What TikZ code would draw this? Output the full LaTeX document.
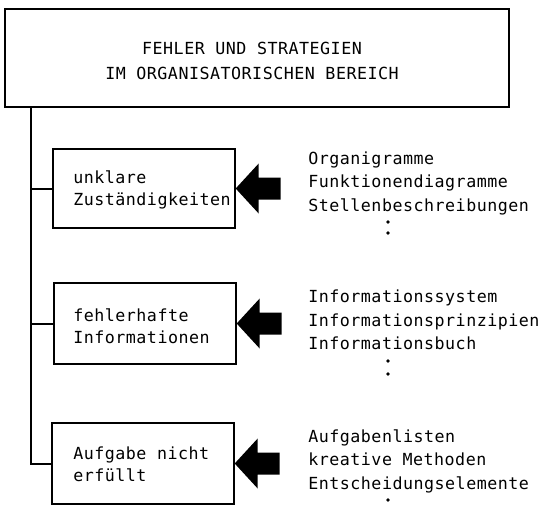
\documentclass[tikz,border=0pt]{standalone}
\usepackage{fontspec}
\newfontfamily\typew{DejaVu Sans Mono}[LetterSpace=3]
\begin{document}
\begin{tikzpicture}[x=0.75pt,y=-0.75pt,
  every node/.style={font=\typew\fontsize{12.5pt}{16.5pt}\selectfont},
  frame/.style={draw=black,line width=1.5pt,inner sep=0pt},
  mainbox/.style={frame,minimum width=378pt,minimum height=73pt},
  errbox/.style={frame,minimum width=136pt,minimum height=59pt},
  boxtext/.style={anchor=west,align=left,inner sep=0pt},
  listtext/.style={anchor=west,align=left,inner sep=0pt,
    font=\typew\fontsize{12.5pt}{17.6pt}\selectfont},
  link/.style={line width=1.5pt},
  bigarrow/.style={fill=black},
  dot/.style={fill=black}]
\useasboundingbox (0,0) rectangle (547,508);

% title box
\node[mainbox] (top) at (257,58) {};
\node[align=center,inner sep=0pt,font=\typew\fontsize{12.5pt}{18.75pt}\selectfont] (title) at (252,60.5)
  {FEHLER UND STRATEGIEN\\IM ORGANISATORISCHEN BEREICH};

% error boxes
\node[errbox] (b1) at (144,188.5) {};
\node[errbox,minimum height=61pt] (b2) at (145,323.5) {};
\node[errbox,minimum height=61pt] (b3) at (143,463.5) {};

\node[boxtext] (t1) at (73,190) {unklare\\Zuständigkeiten};
\node[boxtext] (t2) at (73,326) {fehlerhafte\\Informationen};
\node[boxtext] (t3) at (73,464) {Aufgabe nicht\\erfüllt};

% trunk and branches
\coordinate (trunk) at (31,0);
\draw[link] (top.south -| trunk) |- (b3.west);
\draw[link] (trunk |- b1.west) -- (b1.west);
\draw[link] (trunk |- b2.west) -- (b2.west);

% block arrows
\foreach \b in {b1,b2,b3}{
  \fill[bigarrow] (\b.east) -- ++(23,-25) -- ++(0,14) -- ++(22,0)
     -- ++(0,22) -- ++(-22,0) -- ++(0,14) -- cycle;
}

% lists
\node[listtext] (l1) at (308,183)
  {Organigramme\\Funktionendiagramme\\Stellenbeschreibungen};
\node[listtext] (l2) at (308,320)
  {Informationssystem\\Informationsprinzipien\\Informationsbuch};
\node[listtext] (l3) at (308,461)
  {Aufgabenlisten\\kreative Methoden\\Entscheidungselemente};

\fill[dot] (388,222) circle (1.8);
\fill[dot] (388,233) circle (1.8);
\fill[dot] (388,361) circle (1.8);
\fill[dot] (388,374) circle (1.8);
\fill[dot] (388,500) circle (1.8);
\end{tikzpicture}
\end{document}
